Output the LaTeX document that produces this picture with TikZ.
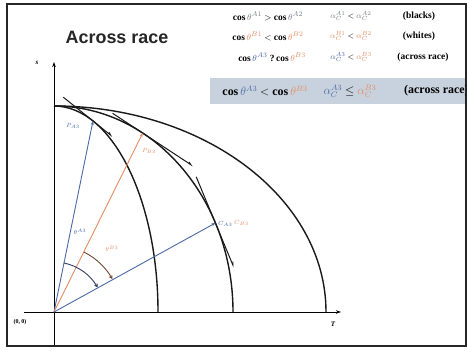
\documentclass[tikz,border=0pt]{standalone}
\usepackage{fontspec}
\setmainfont{Liberation Serif}
\newfontfamily\titlefont{Liberation Sans}
\usetikzlibrary{arrows.meta,calc}
\definecolor{vblue}{RGB}{75,105,165}
\definecolor{vorange}{RGB}{228,140,100}
\definecolor{vgray}{RGB}{120,125,140}
\definecolor{boxfill}{RGB}{200,210,222}
\begin{document}
\begin{tikzpicture}[x=1bp,y=1bp,
  curve/.style={line width=1.4bp,black!90},
  axisline/.style={line width=1bp,black,-{Stealth[length=5bp,width=3.5bp]}},
  vec/.style={line width=0.9bp,-{Stealth[length=4bp,width=3bp]}},
  tang/.style={line width=1bp,black!90,-{Straight Barb[harpoon,length=3bp,width=2.5bp]}},
  angarc/.style={line width=0.9bp,-{Straight Barb[length=2.5bp,width=3bp]}},
  lbl/.style={font=\fontsize{6.5}{7}\selectfont,inner sep=0pt},
  axlbl/.style={font=\bfseries\itshape\fontsize{7}{8}\selectfont,inner sep=0pt},
  tab/.style={font=\bfseries\fontsize{9.5}{11}\selectfont,inner sep=0pt},
  taba/.style={font=\bfseries\fontsize{8.5}{10}\selectfont,inner sep=0pt},
  tabbig/.style={font=\bfseries\fontsize{12}{14}\selectfont,inner sep=0pt,anchor=west},
]
\useasboundingbox (0,0) rectangle (467,350);
\fill[white] (0,0) rectangle (467,350);

% highlighted row
\fill[boxfill] (210,246) rectangle (466,272);

% frame
\draw[line width=1.8bp,black!85] (7,4) rectangle (466,346);

% title
\node[font=\titlefont\bfseries\fontsize{18}{20}\selectfont,text=black!85] (title) at (117,313) {Across race};

% table
\node[tab] (r1a) at (268,334) {cos\,$\color{vgray}\theta^{A1}$ $>$ cos\,$\color{vgray}\theta^{A2}$};
\node[taba] (r1b) at (351,334) {$\color{vgray}\alpha_C^{A1}$ $<$ $\color{vgray}\alpha_C^{A2}$};
\node[tab] (r1c) at (419,334) {(blacks)};
\node[tab] (r2a) at (268,314) {cos\,$\color{vorange}\theta^{B1}$ $<$ cos\,$\color{vorange}\theta^{B2}$};
\node[taba] (r2b) at (351,314) {$\color{vorange}\alpha_C^{B1}$ $<$ $\color{vorange}\alpha_C^{B2}$};
\node[tab] (r2c) at (419,314) {(whites)};
\node[tab] (r3a) at (272,293) {cos\,$\color{vblue}\theta^{A3}$ ?\,cos\,$\color{vorange}\theta^{B3}$};
\node[taba] (r3b) at (351,293) {$\color{vblue}\alpha_C^{A3}$ $<$ $\color{vorange}\alpha_C^{B3}$};
\node[tab] (r3c) at (423,293) {(across race)};
\node[tabbig,anchor=center] (r4a) at (265,259) {cos\,$\color{vblue}\theta^{A3}$ $<$ cos\,$\color{vorange}\theta^{B3}$};
\node[tabbig,anchor=center] (r4b) at (350,259) {$\color{vblue}\alpha_C^{A3}$ $\leq$ $\color{vorange}\alpha_C^{B3}$};
\begin{scope}
\clip (0,0) rectangle (465,350);
\node[tabbig] (r4c) at (404,259) {(across race)};
\end{scope}

% axes
\coordinate (O) at (54,38);
\coordinate (ybot) at (54,5);
\coordinate (ytop) at (54,288);
\coordinate (xl) at (24,38);
\coordinate (xr) at (341,38);
\draw[axisline] (ybot) -- (ytop);
\draw[axisline] (xl) -- (xr);
\node[axlbl] (slbl) at (37,287) {s};
\node[axlbl] (tlbl) at (333,26) {T};
\node[font=\bfseries\fontsize{6}{7}\selectfont,inner sep=0pt] (orig) at (20,28) {(0, 0)};

% iso curves (quarter ellipses)
\draw[curve] ($(O)+(0,206)$) arc[start angle=90,end angle=0,x radius=104,y radius=206];
\draw[curve] ($(O)+(0,206)$) arc[start angle=90,end angle=0,x radius=179,y radius=206];
\draw[curve] ($(O)+(0,206)$) arc[start angle=90,end angle=0,x radius=272,y radius=206];

% points
\coordinate (PA) at (92.96,229.0);
\coordinate (PB) at (142.7,216.9);
\coordinate (C) at (215.4,127.0);

% tangents
\coordinate (ta1) at (63.3,252.8);
\coordinate (ta2) at (112.5,213.4);
\coordinate (tb1) at (112.6,236.7);
\coordinate (tb2) at (192.9,184.0);
\coordinate (tc1) at (196.2,173.2);
\coordinate (tc2) at (233.8,82.7);
\draw[tang] (ta1) -- (ta2);
\draw[tang] (tb1) -- (tb2);
\draw[tang] (tc1) -- (tc2);

% vectors
\draw[vec,vblue] (O) -- (PA);
\draw[vec,vorange] (O) -- (PB);
\draw[vec,vblue] (O) -- (C);

% angle arcs
\draw[angarc,vblue!60!black] ($(O)+(78.5:50)$) arc[start angle=78.5,end angle=29.5,radius=50];
\draw[angarc,vorange!50!black] ($(O)+(63.6:67)$) arc[start angle=63.6,end angle=29.5,radius=67];

% labels
\node[lbl,text=vblue] (thA) at (80,118) {$\theta^{A3}$};
\node[lbl,text=vorange] (thB) at (112,101) {$\theta^{B3}$};
\node[lbl,text=vblue] (lPA) at (73,224) {$P_{A3}$};
\node[lbl,text=vorange] (lPB) at (149,199) {$P_{B3}$};
\node[lbl,text=vblue,anchor=west] (lCA) at (218,126) {$C_{A3}$};
\node[lbl,text=vorange,anchor=west] (lCB) at (234,127) {$C_{B3}$};
\end{tikzpicture}
\end{document}
